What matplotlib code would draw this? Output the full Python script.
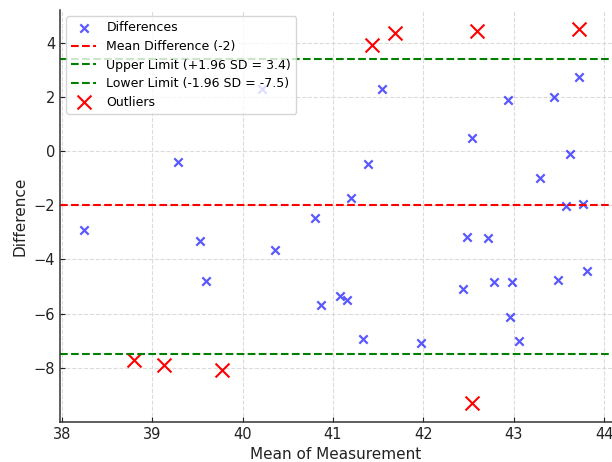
import numpy as np
import matplotlib.pyplot as plt

#--Data
mean_x = [38.25, 39.28, 39.53, 39.60, 40.36, 40.80, 40.87, 41.08, 41.15, 41.20,
          41.39, 42.54, 42.48, 42.71, 42.44, 42.78, 42.98, 42.96, 43.29, 43.62,
          43.58, 43.76, 43.49, 43.81, 41.54, 42.94, 43.44, 43.72, 40.21, 41.33,
          41.97, 43.06]
diff_y = [-2.93, -0.39, -3.30, -4.79, -3.64, -2.46, -5.67, -5.33, -5.49, -1.73,
          -0.46, 0.49, -3.16, -3.19, -5.08, -4.83, -4.82, -6.14, -1.00, -0.10,
          -2.02, -1.94, -4.74, -4.41, 2.31, 1.88, 2.00, 2.75, 2.29, -6.94,
          -7.10, -7.01]

out_x = [41.43, 41.68, 42.59, 43.72, 38.80, 39.13, 39.77, 42.54]
out_y = [3.90, 4.35, 4.45, 4.50, -7.71, -7.89, -8.07, -9.31]

mean_diff = -2.0
upper = 3.4
lower = -7.5
labels = ['Differences', 'Mean Difference (-2)', 'Upper Limit (+1.96 SD = 3.4)',
          'Lower Limit (-1.96 SD = -7.5)', 'Outliers']

#--Plot
fig = plt.figure(figsize=(6.12, 4.62), dpi=100)
ax = fig.add_axes([60/612, 40/462, 552/612, 412/462])

ax.scatter(mean_x, diff_y, marker='x', color='blue', alpha=0.65, s=36, linewidths=1.6, label=labels[0])
ax.axhline(mean_diff, color='red', linestyle='--', linewidth=1.5, label=labels[1])
ax.axhline(upper, color='green', linestyle='--', linewidth=1.5, label=labels[2])
ax.axhline(lower, color='green', linestyle='--', linewidth=1.5, label=labels[3])
ax.scatter(out_x, out_y, marker='x', color='red', s=100, linewidths=1.5, label=labels[4])

ax.set_xlim(37.98, 44.085)
ax.set_ylim(-10.0, 5.21)
ax.set_xticks(range(38, 45))
ax.set_yticks(range(-8, 5, 2))
ax.grid(True, linestyle='--', color='lightgray', linewidth=0.8, alpha=0.8)
ax.set_axisbelow(True)
ax.tick_params(direction='in', length=3.5, labelsize=10.5, colors='#222222')
for s in ['top', 'right']:
    ax.spines[s].set_visible(False)
for s in ['left', 'bottom']:
    ax.spines[s].set_color('#333333')
    ax.spines[s].set_linewidth(1.1)

ax.set_xlabel('Mean of Measurement', fontsize=11, color='#222222')
ax.set_ylabel('Difference', fontsize=11, color='#222222')
ax.legend(loc='upper left', fontsize=9, labelspacing=0.45)

#title sits above the visible area, only the bottoms of the brackets show
fig.text(383/612, 1 + 2/462, 'Bland-Altman Plot (Outliers)', ha='right', va='baseline', fontsize=13)

plt.savefig('out.png', dpi=100)
